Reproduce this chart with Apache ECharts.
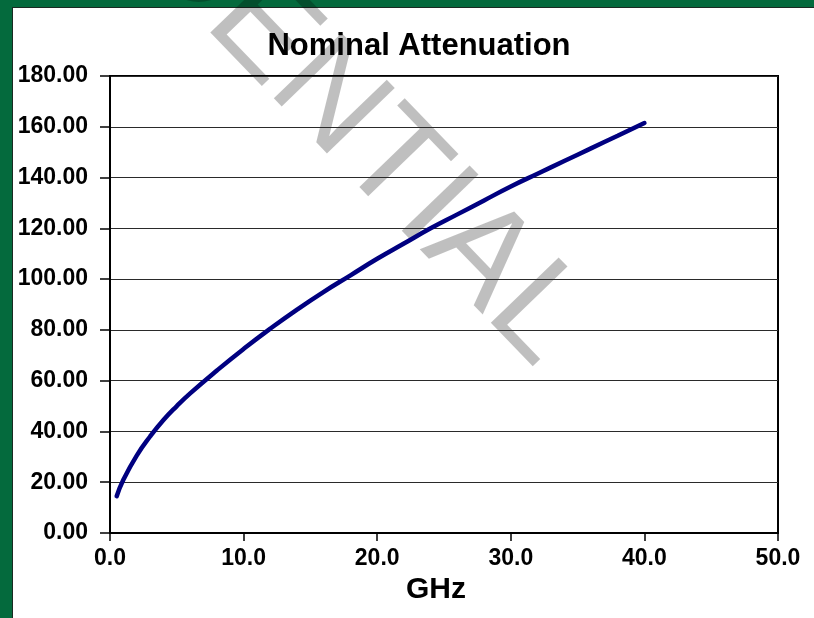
<!DOCTYPE html>
<html>
<head>
<meta charset="utf-8">
<script src="https://cdn.jsdelivr.net/npm/echarts@6/dist/echarts.min.js"></script>
<style>
html,body{margin:0;padding:0;background:#fff;}
#chart{width:814px;height:618px;}
</style>
</head>
<body>
<div id="chart"></div>
<script>
const titleText = 'Nominal Attenuation';
const xAxisName = 'GHz';
const watermarkText = 'CONFIDENTIAL';
const freqGHz = [0.5, 1, 2, 3, 4, 5, 6, 8, 10, 12, 14, 16, 18, 20, 22, 24, 26, 28, 30, 32, 34, 36, 38, 40];
const attenuation = [14.5, 21, 30.5, 38, 44.5, 50, 55, 64, 72.5, 80.5, 88, 95, 101.5, 108, 114, 120, 125.5, 131, 136.5, 141.5, 146.5, 151.5, 156.5, 161.5];
const yTicks = [0, 20, 40, 60, 80, 100, 120, 140, 160, 180];
const xTicks = [0, 10, 20, 30, 40, 50];

const chart = echarts.init(document.getElementById('chart'), null, {renderer: 'canvas'});
const font = 'Liberation Sans, Arial, sans-serif';
const ang = -46 * Math.PI / 180;

chart.setOption({
  animation: false,
  backgroundColor: '#ffffff',
  title: {
    text: titleText,
    left: 414,
    top: 26,
    textAlign: 'center',
    z: 10,
    textStyle: {fontFamily: font, fontWeight: 'bold', fontSize: 31, color: '#000'}
  },
  grid: {
    left: 110, right: 36, top: 76, bottom: 85,
    show: true, borderColor: '#000', borderWidth: 2, backgroundColor: 'transparent',
    z: 3
  },
  xAxis: {
    type: 'value',
    min: xTicks[0], max: xTicks[xTicks.length - 1], interval: 10,
    z: 4,
    name: xAxisName,
    nameLocation: 'middle',
    nameGap: 42,
    nameTextStyle: {fontFamily: font, fontWeight: 'bold', fontSize: 30, color: '#000', padding: [0, 16, 0, 0]},
    axisLine: {show: true, lineStyle: {color: '#000', width: 2}},
    axisTick: {show: true, inside: false, length: 8, lineStyle: {color: '#000', width: 1.5}},
    axisLabel: {margin: 14, fontFamily: font, fontWeight: 'bold', fontSize: 23, color: '#000',
      formatter: v => v.toFixed(1)},
    splitLine: {show: false}
  },
  yAxis: {
    type: 'value',
    min: yTicks[0], max: yTicks[yTicks.length - 1], interval: 20,
    z: 4,
    axisLine: {show: true, lineStyle: {color: '#000', width: 2}},
    axisTick: {show: true, inside: false, length: 10, lineStyle: {color: '#000', width: 1.5}},
    axisLabel: {margin: 22, fontFamily: font, fontWeight: 'bold', fontSize: 23, color: '#000',
      formatter: v => v.toFixed(2)},
    splitLine: {show: true, lineStyle: {color: '#2a2a2a', width: 1.2}}
  },
  graphic: {
    elements: [
      {type: 'rect', left: 0, top: 0, z: 0, shape: {width: 12, height: 618}, style: {fill: '#046a3d'}},
      {type: 'rect', left: 0, top: 0, z: 0, shape: {width: 814, height: 7}, style: {fill: '#046a3d'}},
      {type: 'rect', left: 12, top: 7, z: 0, shape: {width: 1, height: 611}, style: {fill: '#1a2a22'}},
      {type: 'rect', left: 12, top: 7, z: 0, shape: {width: 802, height: 1}, style: {fill: '#1a2a22'}},
      {
        type: 'text', x: 214, y: -18, rotation: ang, z: 1,
        style: {
          text: watermarkText,
          font: 'normal 137px Liberation Sans, Arial, sans-serif',
          fill: 'rgba(0,0,0,0.25)',
          align: 'center', verticalAlign: 'middle',
          textAlign: 'center', textVerticalAlign: 'middle'
        }
      }
    ]
  },
  series: [{
    type: 'line',
    z: 6,
    data: freqGHz.map((f, i) => [f, attenuation[i]]),
    smooth: true,
    showSymbol: false,
    lineStyle: {color: '#000080', width: 4.5, cap: 'round'},
    itemStyle: {color: '#000080'}
  }]
});
</script>
</body>
</html>
